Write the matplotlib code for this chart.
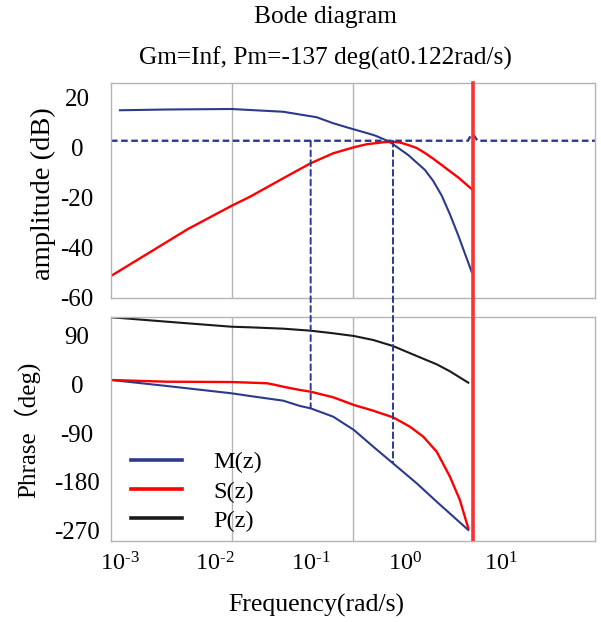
import matplotlib
matplotlib.use('Agg')
import matplotlib.pyplot as plt
from matplotlib.ticker import FixedLocator
from matplotlib.patches import ConnectionPatch

plt.rcParams['font.family'] = ['Liberation Serif', 'Noto Sans CJK SC', 'DejaVu Sans']
plt.rcParams['mathtext.fontset'] = 'custom'
plt.rcParams['mathtext.rm'] = 'Liberation Serif'
plt.rcParams['mathtext.default'] = 'regular'
plt.rcParams['axes.unicode_minus'] = False

# magnitude (dB)
m_mag_freq = [0.001, 0.0031, 0.0149, 0.0232, 0.0519, 0.1165, 0.174, 0.2606, 0.390, 0.477, 0.583, 0.714,
              1.066, 1.599, 1.954, 2.394, 2.924, 3.58, 4.94]
m_mag = [15.1, 15.4, 15.6, 15.2, 14.5, 12.3, 9.9, 7.9, 6.0, 5.0, 3.6, 1.9,
         -2.8, -8.8, -13.2, -19.0, -26.5, -35.0, -49.5]
s_mag_freq = [0.000804, 0.00518, 0.0149, 0.0232, 0.0519, 0.1007, 0.174, 0.287, 0.390, 0.477, 0.583, 0.714,
              0.873, 1.066, 1.309, 1.599, 1.954, 2.394, 2.924, 3.58, 4.94]
s_mag = [-51.2, -32.4, -23.1, -19.5, -12.1, -6.1, -2.1, 0.3, 1.5, 1.9, 2.3, 2.5,
         2.2, 1.2, 0.0, -2.0, -4.3, -6.8, -9.3, -11.8, -16.4]

# phase (deg)
p_ph_freq = [0.000818, 0.0031, 0.0149, 0.0232, 0.0519, 0.1007, 0.174, 0.287, 0.458, 0.738,
             1.309, 2.123, 2.924, 4.56]
p_ph = [123.6, 115.5, 106.2, 105.1, 102.6, 98.9, 94.1, 89.1, 81.7, 70.6,
        52.2, 36.9, 24.0, 3.0]
s_ph_freq = [0.000818, 0.0031, 0.0149, 0.0348, 0.0425, 0.0519, 0.0778, 0.1007, 0.174, 0.287, 0.458, 0.738,
             1.112, 1.535, 2.123, 2.924, 3.72, 4.56]
s_ph = [7.9, 4.8, 4.2, 2.0, -1.0, -4.5, -10.5, -13.6, -24.0, -38.2, -48.7, -60.9,
        -78.2, -96.6, -124.3, -170.4, -213.4, -265.6]
m_ph_freq = [0.000818, 0.0031, 0.0149, 0.0232, 0.0519, 0.0778, 0.1007, 0.174, 0.287, 0.458, 0.738,
             1.309, 2.123, 4.56]
m_ph = [7.9, -3.1, -16.6, -21.6, -30.2, -40.0, -44.3, -59.8, -84.3, -115.1, -145.7,
        -182.6, -216.5, -268.7]

# dashed reference lines
ref_freq = [0.000804, 4.52, 4.87, 5.23, 5.7, 98.0]
ref_db = [2.9, 2.9, 5.2, 5.0, 2.9, 2.9]
cross_freq = [0.1007, 0.738]
cross_ph = [-44.3, -145.7]
nyq_freq = 5.07

blue = '#2b3a8c'
red = '#ff0000'
gridc = '#b4b4b4'

fig = plt.figure(figsize=(6.01, 6.22), dpi=100)
ax1 = fig.add_axes([111/601, 1-298/622, 484/601, 215/622])
ax2 = fig.add_axes([111/601, 1-541/622, 484/601, 224.3/622])

for ax in (ax1, ax2):
    ax.set_xscale('log')
    ax.set_xlim(10**-3.0945, 10**1.99)
    ax.set_xticks([1e-3, 1e-2, 1e-1, 1e0, 1e1])
    ax.xaxis.set_minor_locator(FixedLocator([0.01502, 0.2834]))
    ax.tick_params(which='both', length=0, labelsize=18)
    ax.grid(which='minor', color=gridc, lw=1)
    for s in ax.spines.values():
        s.set_color(gridc)
        s.set_linewidth(1)

ax1.plot(m_mag_freq, m_mag, color=blue, lw=1.5)
ax1.plot(s_mag_freq, s_mag, color=red, lw=1.7)
ax1.plot(ref_freq, ref_db, color=blue, lw=1.7, dashes=(2.8, 1.5))
ax1.set_ylim(-60, 26)
ax1.set_yticks([-60, -40, -20, 0, 20])
ax1.yaxis.set_minor_locator(FixedLocator([-40, -20, 0]))
ax1.set_xticklabels([])
ax1.axvline(nyq_freq, ymin=-0.09, ymax=1, color='#ff3030', lw=2.6, clip_on=False, zorder=5)

lm, = ax2.plot(m_ph_freq, m_ph, color=blue, lw=1.5)
ls, = ax2.plot(s_ph_freq, s_ph, color=red, lw=1.7)
lp, = ax2.plot(p_ph_freq, p_ph, color='#1a1a1a', lw=1.5)
ax2.set_ylim(-289, 124.7)
ax2.set_yticks([-270, -180, -90, 0, 90])
ax2.yaxis.set_minor_locator(FixedLocator([-180, -90, 0]))
ax2.set_xticklabels([r'$10^{\text{-}3}$', r'$10^{\text{-}2}$', r'$10^{\text{-}1}$', r'$10^{0}$', r'$10^{1}$'])
ax2.tick_params(axis='x', pad=8, labelsize=17.5)
ax2.axvline(nyq_freq, color='#ff3030', lw=2.6, zorder=5)

for ax in (ax1, ax2):
    ax.tick_params(axis='y', pad=24.5)
    for t in ax.get_yticklabels():
        t.set_horizontalalignment('center')

for f, ph in zip(cross_freq, cross_ph):
    con = ConnectionPatch(xyA=(f, ref_db[0]), coordsA=ax1.transData,
                          xyB=(f, ph), coordsB=ax2.transData,
                          color=blue, lw=1.4, linestyle=(0, (3, 2)))
    fig.add_artist(con)

leg = ax2.legend([lm, ls, lp], ['M(z)', 'S(z)', 'P(z)'], loc='upper left',
                 bbox_to_anchor=(0.041, 0.40), borderaxespad=0, borderpad=0,
                 frameon=False, fontsize=17.5, handlelength=2.1, handletextpad=1.3,
                 labelspacing=0.3)
for l in leg.get_lines():
    l.set_linewidth(2.6)

fig.text(325/601, 1-17/622, 'Bode diagram', ha='center', va='center', fontsize=18.3)
fig.text(325/601, 1-58/622, 'Gm=Inf, Pm=-137 deg(at0.122rad/s)', ha='center', va='center', fontsize=18.3)
fig.text(43/601, 1-194/622, 'amplitude (dB)', rotation=90, ha='center', va='center', fontsize=20.5)
fig.text(27/601, 1-430/622, 'Phrase（deg)', rotation=90, ha='center', va='center', fontsize=18)
fig.text(316/601, 1-605/622, 'Frequency(rad/s)', ha='center', va='center', fontsize=18.5)

fig.savefig('out.png', dpi=100)
